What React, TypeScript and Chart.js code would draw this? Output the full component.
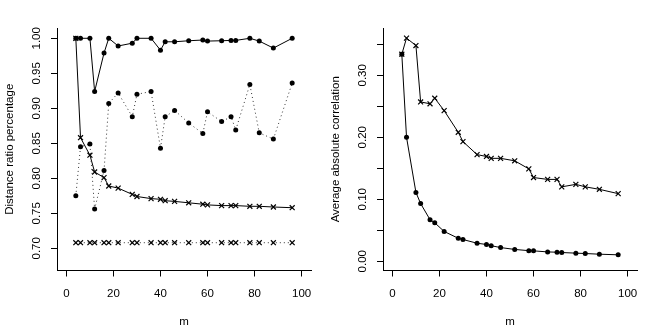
import React, { useEffect, useRef } from 'react';
import { Chart, registerables } from 'chart.js';

Chart.register(...registerables);

// m values (shared by all series)
const M = [4, 6, 10, 12, 16, 18, 22, 28, 30, 36, 40, 42, 46, 52, 58, 60, 66, 70, 72, 78, 82, 88, 96];

// Left panel: distance ratio percentage
const distSolidDots = [1.0, 1.0, 1.0, 0.924, 0.979, 1.0, 0.989, 0.993, 1.0, 1.0, 0.983, 0.995, 0.995, 0.9965, 0.9975, 0.996, 0.9965, 0.997, 0.997, 1.0, 0.996, 0.986, 1.0];
const distDottedDots = [0.775, 0.845, 0.849, 0.756, 0.811, 0.907, 0.922, 0.888, 0.92, 0.924, 0.843, 0.888, 0.897, 0.879, 0.864, 0.895, 0.881, 0.888, 0.869, 0.934, 0.865, 0.856, 0.936];
const distSolidCross = [1.0, 0.858, 0.833, 0.809, 0.801, 0.789, 0.786, 0.777, 0.774, 0.771, 0.77, 0.768, 0.767, 0.765, 0.763, 0.762, 0.761, 0.761, 0.761, 0.76, 0.76, 0.759, 0.758];
const distDottedCross = [0.708, 0.708, 0.708, 0.708, 0.708, 0.708, 0.708, 0.708, 0.708, 0.708, 0.708, 0.708, 0.708, 0.708, 0.708, 0.708, 0.708, 0.708, 0.708, 0.708, 0.708, 0.708, 0.708];

// Right panel: average absolute correlation
const corrDots = [0.334, 0.2, 0.111, 0.093, 0.067, 0.062, 0.048, 0.037, 0.035, 0.029, 0.027, 0.025, 0.022, 0.019, 0.017, 0.0167, 0.015, 0.0145, 0.014, 0.013, 0.0124, 0.0113, 0.0103];
const corrCross = [0.334, 0.36, 0.348, 0.257, 0.254, 0.263, 0.243, 0.208, 0.193, 0.172, 0.169, 0.166, 0.166, 0.162, 0.149, 0.135, 0.132, 0.132, 0.12, 0.124, 0.12, 0.116, 0.109];

// Tick values
const xTicks = [0, 20, 40, 60, 80, 100];
const leftYTicks = [0.7, 0.75, 0.8, 0.85, 0.9, 0.95, 1.0];
const rightYTicks = [0, 0.05, 0.1, 0.15, 0.2, 0.25, 0.3, 0.35];
const rightYLabeled = [0, 0.1, 0.2, 0.3];

const FONT = "'Liberation Sans', Arial, Helvetica, sans-serif";
const FS = 11.5;

function series(values: number[], kind: 'dot' | 'cross', dotted: boolean) {
  return {
    data: M.map((m, i) => ({ x: m, y: values[i] })),
    borderColor: dotted ? '#333' : '#000',
    borderWidth: 1,
    borderDash: dotted ? [1, 3] : [],
    pointStyle: kind === 'dot' ? 'circle' : 'crossRot',
    pointRadius: kind === 'dot' ? 2.5 : 3.5,
    pointBorderWidth: kind === 'dot' ? 0 : 1.2,
    pointBackgroundColor: '#000',
    pointBorderColor: '#000',
    pointHoverRadius: 0,
    tension: 0,
    fill: false,
    clip: false as any,
  };
}

function makeChart(
  canvas: HTMLCanvasElement,
  datasets: any[],
  yMin: number,
  yMax: number,
  yTicks: number[],
  yLabel: (v: number) => string,
  yTitle: string,
  padRight: number
) {
  return new Chart(canvas, {
    type: 'line',
    data: { datasets },
    options: {
      animation: false,
      responsive: false,
      events: [],
      layout: { padding: { top: 28, right: padRight, left: 0, bottom: 0 } },
      plugins: { legend: { display: false }, tooltip: { enabled: false } },
      scales: {
        x: {
          type: 'linear',
          min: -4,
          max: 104,
          afterBuildTicks: (s: any) => {
            s.ticks = xTicks.map((v) => ({ value: v }));
          },
          afterFit: (s: any) => {
            s.height = 58.5;
          },
          grid: { display: true, drawOnChartArea: false, drawTicks: true, tickLength: 6, color: '#000', lineWidth: 1 },
          border: { display: true, color: '#000', width: 1 },
          ticks: {
            color: '#000',
            font: { family: FONT, size: FS },
            padding: 10.5,
            maxRotation: 0,
            minRotation: 0,
            autoSkip: false,
            callback: (v: any) => String(v),
          },
          title: { display: true, text: 'm', color: '#000', font: { family: FONT, size: FS }, padding: { top: 0, bottom: 0 } },
        },
        y: {
          type: 'linear',
          min: yMin,
          max: yMax,
          afterBuildTicks: (s: any) => {
            s.ticks = yTicks.map((v) => ({ value: v }));
          },
          afterFit: (s: any) => {
            s.width = 57;
          },
          grid: { display: true, drawOnChartArea: false, drawTicks: true, tickLength: 6, color: '#000', lineWidth: 1 },
          border: { display: true, color: '#000', width: 1 },
          ticks: {
            color: '#000',
            font: { family: FONT, size: FS },
            padding: 3,
            minRotation: 90,
            maxRotation: 90,
            crossAlign: 'center',
            autoSkip: false,
            callback: (v: any) => yLabel(Number(v)),
          },
          title: { display: true, text: yTitle, color: '#000', font: { family: FONT, size: FS }, padding: { top: 2.5, bottom: 0 } },
        },
      },
    } as any,
  });
}

export default function App() {
  const leftRef = useRef<HTMLCanvasElement>(null);
  const rightRef = useRef<HTMLCanvasElement>(null);

  useEffect(() => {
    const left = makeChart(
      leftRef.current!,
      [
        series(distSolidDots, 'dot', false),
        series(distDottedDots, 'dot', true),
        series(distSolidCross, 'cross', false),
        series(distDottedCross, 'cross', true),
      ],
      0.6683,
      1.0147,
      leftYTicks,
      (v) => v.toFixed(2),
      'Distance ratio percentage',
      15
    );
    const right = makeChart(
      rightRef.current!,
      [series(corrDots, 'dot', false), series(corrCross, 'cross', false)],
      -0.015,
      0.3763,
      rightYTicks,
      (v) => (rightYLabeled.some((t) => Math.abs(t - v) < 1e-9) ? v.toFixed(2) : ''),
      'Average absolute correlation',
      14
    );
    return () => {
      left.destroy();
      right.destroy();
    };
  }, []);

  return (
    <div style={{ position: 'absolute', left: 0, top: 0, width: 651, height: 329, background: '#fff' }}>
      <canvas ref={leftRef} width={326} height={329} style={{ position: 'absolute', left: 0, top: 0 }} />
      <canvas ref={rightRef} width={325} height={329} style={{ position: 'absolute', left: 326, top: 0 }} />
    </div>
  );
}
